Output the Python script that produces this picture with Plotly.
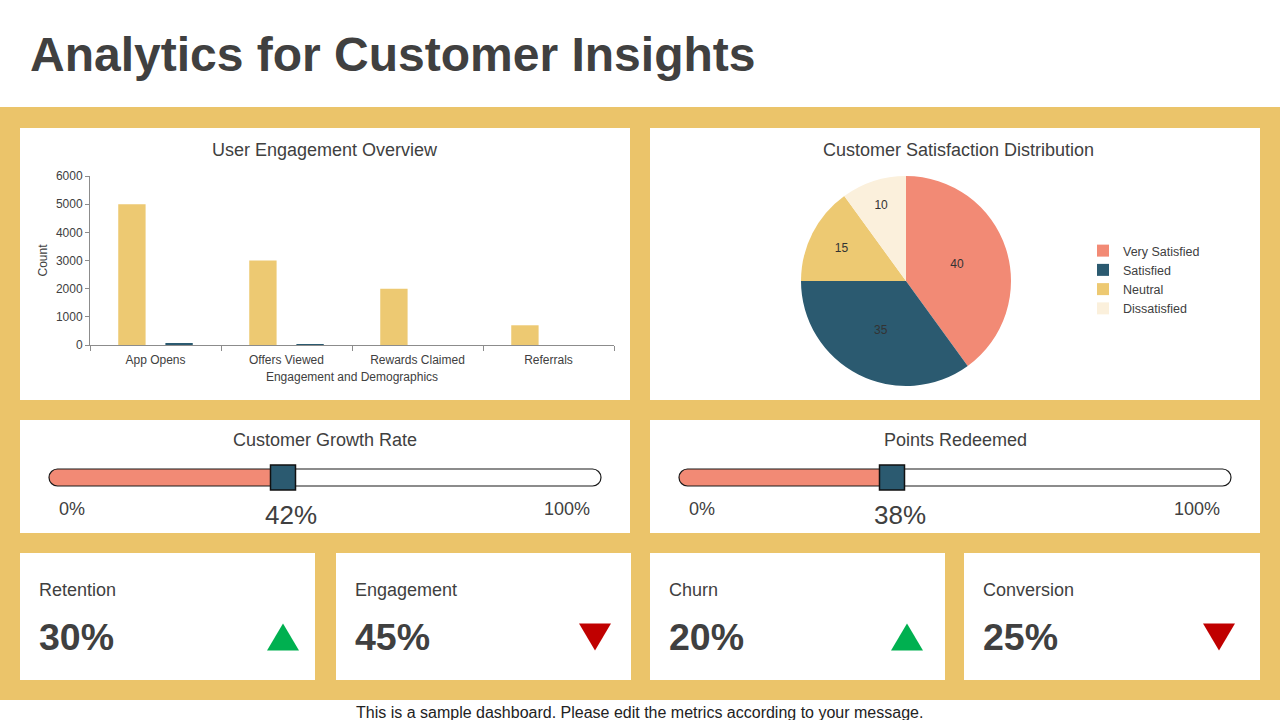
import plotly.graph_objects as go

W, H = 1280, 720


def X(px):
    return px / W


def Y(py):
    return 1 - py / H


# ---------------- data ----------------
title_text = "Analytics for Customer Insights"
footer_text = "This is a sample dashboard. Please edit the metrics according to your message."

bar_title = "User Engagement Overview"
bar_categories = ["App Opens", "Offers Viewed", "Rewards Claimed", "Referrals"]
engagement_counts = [5000, 3000, 2000, 700]
demographic_counts = [40, 30, 0, 0]
bar_x_title = "Engagement and Demographics"
bar_y_title = "Count"
bar_y_ticks = [0, 1000, 2000, 3000, 4000, 5000, 6000]

pie_title = "Customer Satisfaction Distribution"
satisfaction_labels = ["Very Satisfied", "Satisfied", "Neutral", "Dissatisfied"]
satisfaction_values = [40, 35, 15, 10]

slider_titles = ["Customer Growth Rate", "Points Redeemed"]
slider_values = [42, 38]

kpi_labels = ["Retention", "Engagement", "Churn", "Conversion"]
kpi_values = [30, 45, 20, 25]
kpi_trends = ["up", "down", "up", "down"]

# ---------------- style ----------------
FONT = "Liberation Sans, Arial, sans-serif"
BAND = "#EBC46A"
BAR_YELLOW = "#EDC972"
TEAL = "#2B5A70"
SALMON = "#F28A75"
CREAM = "#FBF0DC"
TEXT = "#404040"
GREEN = "#00B050"
RED = "#C00000"

fig = go.Figure()
shapes = []
annotations = []

# background band
shapes.append(dict(type="rect", xref="paper", yref="paper", x0=0, x1=1, y0=Y(700), y1=Y(107),
                   fillcolor=BAND, line=dict(width=0), layer="below"))

# panels (px)
panels = [(20, 128, 630, 400), (650, 128, 1260, 400),
          (20, 420, 630, 533), (650, 420, 1260, 533)]
kpi_cards = [(20, 553, 315, 680), (336, 553, 631, 680), (650, 553, 945, 680), (964, 553, 1260, 680)]
for (a, b, c, d) in panels + kpi_cards:
    shapes.append(dict(type="rect", xref="paper", yref="paper", x0=X(a), x1=X(c), y0=Y(d), y1=Y(b),
                       fillcolor="white", line=dict(width=0), layer="below"))

# title & footer
annotations.append(dict(text="<b>" + title_text + "</b>", xref="paper", yref="paper", x=X(28), y=Y(55),
                        xanchor="left", yanchor="middle", showarrow=False,
                        font=dict(family=FONT, size=48, color=TEXT)))
annotations.append(dict(text=footer_text, xref="paper", yref="paper", x=X(639), y=Y(712),
                        xanchor="center", yanchor="middle", showarrow=False,
                        font=dict(family=FONT, size=16, color="#222222")))

# panel titles
for txt, cx, cy in [(bar_title, 325, 150), (pie_title, 958, 150),
                    (slider_titles[0], 325, 440), (slider_titles[1], 955, 440)]:
    annotations.append(dict(text=txt, xref="paper", yref="paper", x=X(cx), y=Y(cy),
                            xanchor="center", yanchor="middle", showarrow=False,
                            font=dict(family=FONT, size=18, color=TEXT)))

# ---------------- bar chart ----------------
fig.add_trace(go.Bar(x=bar_categories, y=engagement_counts, marker=dict(color=BAR_YELLOW, line=dict(width=0)),
                     showlegend=False, xaxis="x", yaxis="y"))
fig.add_trace(go.Bar(x=bar_categories, y=demographic_counts, marker=dict(color=TEAL, line=dict(width=0)),
                     showlegend=False, xaxis="x", yaxis="y"))

axis_font = dict(family=FONT, size=12, color=TEXT)
fig.update_layout(
    xaxis=dict(domain=[X(90), X(614)], type="category", showgrid=False, showline=True,
               linecolor="#8c8c8c", linewidth=1, ticks="outside", tickson="boundaries",
               ticklen=5, tickcolor="#8c8c8c", tickfont=axis_font, ticklabelstandoff=4,
               title=dict(text=bar_x_title, font=axis_font, standoff=6), anchor="y",
               fixedrange=True, automargin=False),
    yaxis=dict(domain=[Y(345), Y(176)], range=[0, 6000], tickvals=bar_y_ticks, showgrid=False,
               showline=True, linecolor="#8c8c8c", linewidth=1, ticks="outside", ticklen=4,
               tickcolor="#8c8c8c", tickfont=axis_font, zeroline=False,
               title=dict(text=bar_y_title, font=axis_font, standoff=5), anchor="x",
               fixedrange=True, automargin=False),
    barmode="group", bargap=0.28, bargroupgap=0.42,
)

# ---------------- pie ----------------
fig.add_trace(go.Pie(labels=satisfaction_labels, values=satisfaction_values, sort=False,
                     direction="clockwise", rotation=0,
                     marker=dict(colors=[SALMON, TEAL, BAR_YELLOW, CREAM], line=dict(width=0)),
                     textinfo="value", textposition="inside", insidetextorientation="horizontal",
                     textfont=dict(family=FONT, size=12, color="#333333"),
                     domain=dict(x=[X(801), X(1011)], y=[Y(386), Y(176)]),
                     showlegend=True))

fig.update_layout(legend=dict(x=X(1083), y=Y(236), xanchor="left", yanchor="top",
                              font=dict(family=FONT, size=12.5, color=TEXT), bgcolor="rgba(0,0,0,0)",
                              tracegroupgap=0))

# ---------------- sliders ----------------
THUMB = 27
tracks = [(49, 601), (679, 1231)]
TRACK_TOP, TRACK_BOT = 469, 486
PADX, PADY = 3, 6
K = 0.5523


def rounded_path(xl, xr, rx, right_round=True):
    p = f"M{xl + rx},0 "
    if right_round:
        p += (f"L{xr - rx},0 C{xr - rx + K * rx},0 {xr},{0.5 - K * 0.5} {xr},0.5 "
              f"C{xr},{0.5 + K * 0.5} {xr - rx + K * rx},1 {xr - rx},1 ")
    else:
        p += f"L{xr},0 L{xr},1 "
    p += (f"L{xl + rx},1 C{xl + rx - K * rx},1 {xl},{0.5 + K * 0.5} {xl},0.5 "
          f"C{xl},{0.5 - K * 0.5} {xl + rx - K * rx},0 {xl + rx},0 Z")
    return p


for i, ((tl, tr), val) in enumerate(zip(tracks, slider_values)):
    xa = f"xaxis{i + 2}"
    ya = f"yaxis{i + 2}"
    xr_ = f"x{i + 2}"
    yr_ = f"y{i + 2}"
    inner = (tr - tl) - THUMB          # px spanned by 0..100
    upx = 100 / inner                  # data units per px
    th = TRACK_BOT - TRACK_TOP
    fig.update_layout({
        xa: dict(domain=[X(tl - PADX), X(tr + PADX)],
                 range=[-(THUMB / 2 + PADX) * upx, 100 + (THUMB / 2 + PADX) * upx],
                 visible=False, fixedrange=True, anchor=yr_, automargin=False),
        ya: dict(domain=[Y(TRACK_BOT + PADY), Y(TRACK_TOP - PADY)],
                 range=[-PADY / th, 1 + PADY / th], visible=False, fixedrange=True,
                 anchor=xr_, automargin=False),
    })
    left = -(THUMB / 2) * upx
    right = 100 + (THUMB / 2) * upx
    rx = (th / 2) * upx
    shapes.append(dict(type="path", xref=xr_, yref=yr_, path=rounded_path(left, val, rx, right_round=False),
                       fillcolor=SALMON, line=dict(width=0), layer="below"))
    shapes.append(dict(type="path", xref=xr_, yref=yr_, path=rounded_path(left, right, rx),
                       fillcolor="rgba(0,0,0,0)", line=dict(color="#1a1a1a", width=1.2), layer="below"))
    fig.add_trace(go.Scatter(x=[val], y=[0.5], mode="markers", xaxis=xr_, yaxis=yr_,
                             marker=dict(symbol="square", size=25, color=TEAL,
                                         line=dict(color="#111111", width=1.5)),
                             cliponaxis=False, showlegend=False, hoverinfo="skip"))
    annotations.append(dict(text=f"{val}%", xref=xr_, yref="paper", x=val, xshift=8, y=Y(515),
                            xanchor="center", yanchor="middle", showarrow=False,
                            font=dict(family=FONT, size=26, color=TEXT)))
    annotations.append(dict(text="0%", xref="paper", yref="paper", x=X(tl + 8), y=Y(509),
                            xanchor="left", yanchor="middle", showarrow=False,
                            font=dict(family=FONT, size=18, color=TEXT)))
    annotations.append(dict(text="100%", xref="paper", yref="paper", x=X(tr - 9), y=Y(509),
                            xanchor="right", yanchor="middle", showarrow=False,
                            font=dict(family=FONT, size=18, color=TEXT)))

# ---------------- KPI cards ----------------
for i, ((a, b, c, d), lab, val, trend) in enumerate(zip(kpi_cards, kpi_labels, kpi_values, kpi_trends)):
    annotations.append(dict(text=lab, xref="paper", yref="paper", x=X(a + 17), y=Y(590),
                            xanchor="left", yanchor="middle", showarrow=False,
                            font=dict(family=FONT, size=18, color=TEXT)))
    annotations.append(dict(text=f"<b>{val}%</b>", xref="paper", yref="paper", x=X(a + 17), y=Y(637),
                            xanchor="left", yanchor="middle", showarrow=False,
                            font=dict(family=FONT, size=37.5, color=TEXT)))
    cx, cy = 283 + 312 * i, 637
    hw, hh = 16, 13.5
    if trend == "up":
        path = (f"M{X(cx - hw)},{Y(cy + hh)} L{X(cx + hw)},{Y(cy + hh)} L{X(cx)},{Y(cy - hh)} Z")
        col = GREEN
    else:
        path = (f"M{X(cx - hw)},{Y(cy - hh)} L{X(cx + hw)},{Y(cy - hh)} L{X(cx)},{Y(cy + hh)} Z")
        col = RED
    shapes.append(dict(type="path", xref="paper", yref="paper", path=path, fillcolor=col,
                       line=dict(width=0), layer="above"))

fig.update_layout(
    width=W, height=H, margin=dict(l=0, r=0, t=0, b=0, pad=0, autoexpand=False),
    paper_bgcolor="white", plot_bgcolor="rgba(0,0,0,0)",
    shapes=shapes, annotations=annotations,
    font=dict(family=FONT, color=TEXT),
)

fig.write_html("out.html", config={"displayModeBar": False})
